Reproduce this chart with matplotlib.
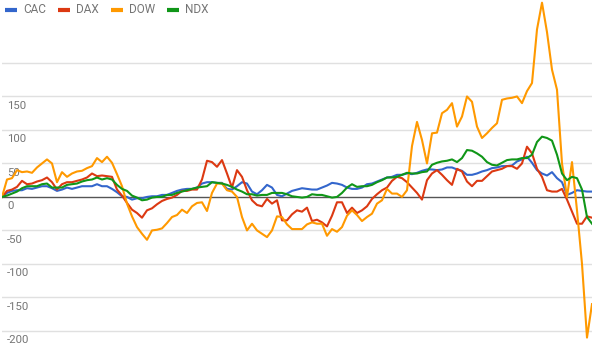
import numpy as np
import matplotlib
matplotlib.use('Agg')
import matplotlib.pyplot as plt
from matplotlib.lines import Line2D
from matplotlib.transforms import ScaledTranslation

plt.rcParams['font.family'] = ['Roboto', 'DejaVu Sans']

names = ['CAC', 'DAX', 'DOW', 'NDX']
colors = ['#3366cc', '#dc3912', '#ff9900', '#109618']

cac = [0, 6, 9, 10, 10, 13, 12, 14, 16, 16,
       13, 9, 11, 14, 12, 14, 16, 16, 16, 19,
       16, 16, 12, 7, 1, 0, -4, -2, -2, 0,
       1, 1, 3, 3, 6, 9, 11, 12, 12, 14,
       20, 22, 22, 21, 21, 12, 11, 16, 22, 20,
       8, 4, 10, 18, 14, 3, 1, 5, 9, 11,
       13, 12, 11, 11, 14, 17, 21, 20, 18, 14,
       12, 12, 14, 19, 20, 23, 26, 29, 30, 33,
       33, 35, 34, 36, 39, 41, 41, 40, 41, 44,
       44, 41, 39, 33, 33, 35, 38, 40, 43, 44,
       46, 46, 47, 53, 56, 60, 51, 40, 35, 32,
       37, 28, 22, 3, 6, 10, 9, 8, 8]

dax = [0, 9, 11, 15, 24, 19, 20, 23, 25, 29,
       22, 11, 19, 22, 22, 24, 26, 29, 35, 31,
       32, 31, 30, 11, 2, -9, -19, -24, -31, -20,
       -17, -11, -6, -3, -1, 3, 9, 9, 11, 11,
       26, 54, 52, 45, 55, 35, 14, 40, 30, 10,
       -5, -12, -14, -3, -10, -5, -35, -35, -26, -20,
       -22, -16, -36, -34, -38, -44, -28, -8, -8, -24,
       -16, -24, -20, -14, -3, 4, 10, 14, 24, 30,
       28, 22, 14, 6, -4, 25, 35, 40, 33, 25,
       18, 42, 38, 23, 16, 24, 24, 31, 38, 40,
       42, 46, 46, 42, 50, 75, 65, 42, 30, 10,
       8, 8, 12, -4, -22, -40, -40, -29, -31]

dow = [0, 26, 28, 40, 37, 38, 36, 44, 50, 56,
       50, 22, 37, 30, 35, 38, 39, 43, 46, 58,
       52, 60, 51, 34, 16, -10, -29, -45, -55, -64,
       -50, -49, -47, -39, -30, -27, -19, -24, -14, -9,
       -8, -21, 6, 20, 20, 10, 8, 0, -30, -50,
       -40, -50, -55, -60, -50, -29, -30, -41, -48, -48,
       -48, -41, -38, -40, -40, -58, -48, -52, -45, -28,
       -20, -27, -36, -30, -25, -10, -5, 12, 5, 5,
       0, 10, 76, 112, 85, 50, 95, 96, 125, 130,
       140, 105, 120, 150, 142, 105, 88, 95, 103, 110,
       145, 147, 148, 150, 140, 158, 170, 250, 290, 246,
       190, 160, 50, 0, 52, -20, -100, -210, -160]

ndx = [0, 2, 5, 8, 13, 16, 16, 16, 19, 20,
       14, 14, 14, 18, 19, 20, 23, 25, 26, 29,
       26, 28, 26, 18, 12, 9, 2, -1, -5, -4,
       -1, 0, 0, 3, 3, 6, 8, 10, 12, 14,
       15, 16, 22, 21, 20, 18, 15, 11, 8, 4,
       4, 2, 3, 3, 6, 6, 6, 4, 1, 0,
       -1, 0, 4, 3, 3, 1, -1, 0, 6, 14,
       19, 15, 16, 16, 18, 22, 25, 29, 29, 30,
       33, 36, 35, 35, 37, 38, 48, 51, 53, 54,
       56, 52, 58, 70, 69, 65, 60, 52, 48, 47,
       51, 55, 56, 56, 58, 58, 63, 82, 90, 88,
       84, 63, 35, 25, 30, 28, 11, -30, -40]

yticks = [-200, -150, -100, -50, 0, 50, 100, 150, 200]
ylabels = ['-200', '-150', '-100', '-50', '0', '50', '100', '150', '']

fig = plt.figure(figsize=(6, 3.53), dpi=100)
ax = fig.add_axes([2 / 600, 0, 590 / 600, 1])
ax.axis('off')

x = np.arange(len(cac))
for s, c in zip([cac, dax, dow, ndx], colors):
    ax.plot(x, s, color=c, lw=1.5, solid_joinstyle='round', zorder=3)

ax.set_xlim(0, len(cac) - 1)
ax.set_ylim(-233, 294)

# gridlines + baseline
for v in yticks:
    ax.axhline(v, color='#555555' if v == 0 else '#e0e0e0', lw=1, zorder=1)

# tick labels sit inside the plot, just under each gridline
trans = ax.get_yaxis_transform() + ScaledTranslation(0, -3 / 72, fig.dpi_scale_trans)
for v, lab in zip(yticks, ylabels):
    ax.text(0.0085, v, lab, transform=trans, ha='left', va='top',
            fontsize=8.2, color='#757575', zorder=2)

# legend across the top
lx = [5, 58, 111, 167]
ly = 1 - 9.5 / 353
for xx, n, c in zip(lx, names, colors):
    fig.add_artist(Line2D([xx / 600, (xx + 12) / 600], [ly, ly], color=c, lw=3,
                          solid_capstyle='butt'))
    fig.text((xx + 18) / 600, ly, n, ha='left', va='center', fontsize=8.5,
             color='#757575')

fig.savefig('out.png', dpi=100)
